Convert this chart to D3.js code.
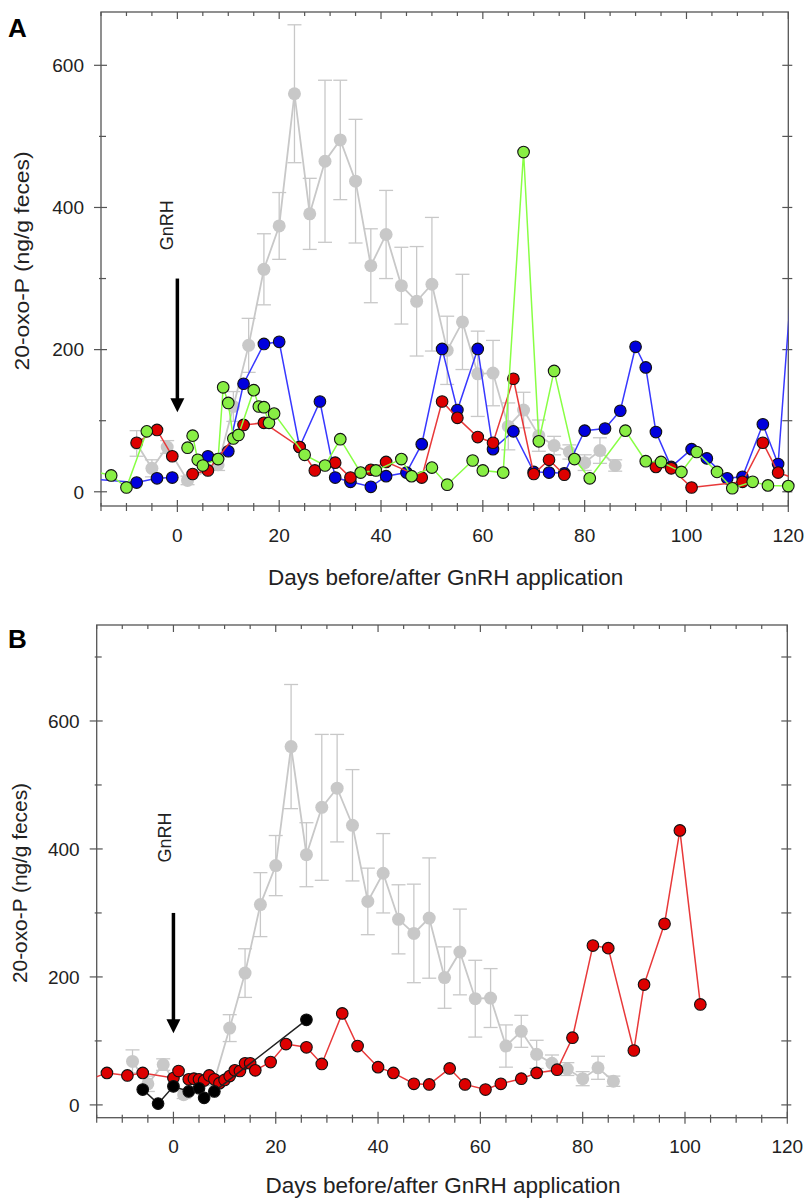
<!DOCTYPE html>
<html><head><meta charset="utf-8">
<script src="https://cdn.jsdelivr.net/npm/d3@7"></script>
<style>
html,body{margin:0;padding:0;background:#fff;}
svg{display:block;font-family:Arial,"Liberation Sans",sans-serif;}
</style></head>
<body><svg id="chart" width="805" height="1198"></svg>
<script>
// ---------- DATA ----------
const xTickLabels = [0, 20, 40, 60, 80, 100, 120];
const yTickLabels = [0, 200, 400, 600];

// reference (mean ± SEM), grey, both panels
const grayDays = [-8,-5,-2,2,8,11,14,17,20,23,26,29,32,35,38,41,44,47,50,53,56,59,62,65,68,71,74,77,80,83,86];
const grayMean = [68,33,63,16,38,120,206,313,374,560,391,465,495,437,318,362,290,268,292,199,239,166,167,92,115,79,65,56,41,58,37];
const grayErr  = [18,12,9,6,8,21,38,50,47,97,50,114,84,87,52,62,54,77,94,48,67,60,46,33,25,22,13,10,11,18,8];

// panel A individual animals (null = gap in line)
const blueADays = [-17,-8,-4,-1,1,6,10,13,17,20,24,28,31,34,38,41,45,48,52,55,59,62,66,70,73,76,80,84,87,90,92,94,97,101,104,108,111,115,118,121];
const blueAVals = [18,13,19,20,null,50,57,152,208,211,63,127,20,14,7,22,27,67,201,115,201,60,85,28,27,26,86,89,114,204,175,84,35,60,47,19,21,95,39,330];

const redADays = [-8,-4,-1,1,3,6,13,17,24,27,31,34,38,41,48,52,55,59,62,66,70,73,76,85,94,97,101,111,115,118,122];
const redAVals = [69,87,50,null,25,30,94,97,63,30,41,20,31,42,20,127,104,77,69,159,25,45,24,null,35,33,6,14,69,27,17];

const greenADays = [-17,-13,-10,-6,0,2,3,4,5,8,9,10,11,12,15,16,17,18,19,25,29,32,36,39,44,46,50,53,58,60,64,68,71,74,78,81,88,92,95,99,102,106,109,113,116,120];
const greenAVals = [30,23,6,85,null,62,79,45,37,46,147,125,75,80,143,120,119,97,110,52,37,74,27,30,46,22,34,10,44,30,27,478,71,170,46,19,86,43,42,28,56,28,5,14,9,8];

// panel B individual animals
const redBDays = [-17,-13,-9,-6,0,1,3,4,5,6,7,8,9,10,11,12,13,14,15,16,19,22,26,29,33,36,40,43,47,50,54,57,61,64,68,71,75,78,82,85,90,92,96,99,103];
const redBVals = [38,50,46,50,42,53,40,41,40,38,46,40,34,39,45,54,53,65,65,54,67,95,90,64,143,92,59,50,33,32,57,32,24,33,41,50,55,105,249,245,85,188,283,429,157];

const blackBDays = [-6,-3,0,3,5,6,8,26];
const blackBVals = [24,2,29,21,26,11,21,133];

// ---------- DRAW ----------
const svg = d3.select("#chart");
const TXT = "#222", AX = "#555";
const COLORS = {
  gray:  {fill:"#c8c8c8", line:"#c8c8c8"},
  blue:  {fill:"#0000dd", line:"#3838ff"},
  red:   {fill:"#dd0000", line:"#e8393a"},
  green: {fill:"#88ee44", line:"#88ff44"},
  black: {fill:"#000000", line:"#222222"}
};

function zip(days, vals){ return days.map((d,i)=>({d, v: vals[i]})); }

function drawPanel(cfg){
  const x = d3.scaleLinear().domain([-15,120]).range([cfg.left, cfg.right]);
  const y = d3.scaleLinear().domain([-20, cfg.yMax]).range([cfg.bottom, cfg.top]);
  const g = svg.append("g");
  const id = "clip" + cfg.label;
  svg.append("defs").append("clipPath").attr("id", id)
    .append("rect").attr("x", cfg.left).attr("y", cfg.top)
    .attr("width", cfg.right-cfg.left).attr("height", cfg.bottom-cfg.top);

  // frame
  g.append("rect").attr("x",cfg.left).attr("y",cfg.top)
    .attr("width",cfg.right-cfg.left).attr("height",cfg.bottom-cfg.top)
    .attr("fill","none").attr("stroke",AX).attr("stroke-width",1.3);

  // x ticks
  const xMinor = d3.range(-15, 121, 5);
  xMinor.forEach(t=>{
    const major = t % 20 === 0;
    const xx = x(t);
    g.append("line").attr("x1",xx).attr("x2",xx)
      .attr("y1",cfg.bottom - (major?6:3)).attr("y2",cfg.bottom + (major?6:5))
      .attr("stroke",AX).attr("stroke-width",1.2);
    g.append("line").attr("x1",xx).attr("x2",xx)
      .attr("y1",cfg.top).attr("y2",cfg.top + (major?7:4))
      .attr("stroke",AX).attr("stroke-width",1.2);
  });
  g.selectAll(".xl").data(xTickLabels).enter().append("text")
    .attr("x", d=>x(d)).attr("y", cfg.xLabY)
    .attr("text-anchor","middle").attr("font-size",19).attr("fill",TXT)
    .text(d=>d);

  // y ticks
  const yTicks = d3.range(0, cfg.yMax, 100);
  yTicks.forEach(t=>{
    const major = t % 200 === 0;
    const yy = y(t);
    g.append("line").attr("y1",yy).attr("y2",yy)
      .attr("x1",cfg.left - (major?7:2)).attr("x2",cfg.left + (major?6:5))
      .attr("stroke",AX).attr("stroke-width",1.2);
    g.append("line").attr("y1",yy).attr("y2",yy)
      .attr("x1",cfg.right - 6).attr("x2",cfg.right + 4)
      .attr("stroke",AX).attr("stroke-width",1.2);
  });
  g.selectAll(".yl").data(yTickLabels).enter().append("text")
    .attr("x", cfg.left - 17).attr("y", d=>y(d))
    .attr("dy","0.36em")
    .attr("text-anchor","end").attr("font-size",19).attr("fill",TXT)
    .text(d=>d);

  // axis titles
  g.append("text").attr("x",(cfg.left+cfg.right)/2 + 1).attr("y",cfg.xTitleY)
    .attr("text-anchor","middle").attr("font-size",22.5).attr("fill",TXT)
    .text("Days before/after GnRH application");
  g.append("text").attr("transform",`translate(${cfg.yTitleX},${cfg.yTitleY}) rotate(-90)`)
    .attr("text-anchor","middle").attr("dy","0.35em").attr("font-size",21).attr("fill",TXT)
    .attr("textLength", cfg.yTitleLen).attr("lengthAdjust","spacingAndGlyphs")
    .text("20-oxo-P (ng/g feces)");
  // panel letter
  g.append("text").attr("x",8).attr("y",cfg.letterY)
    .attr("font-size",26).attr("font-weight","bold").attr("fill","#000")
    .text(cfg.label);

  // GnRH annotation + arrow
  g.append("text").attr("transform",`translate(${x(cfg.gnrhD)},${y(cfg.gnrhV)}) rotate(-90)`)
    .attr("text-anchor","middle").attr("dy","0.35em").attr("font-size",18).attr("fill",TXT)
    .text("GnRH");
  const ax0 = x(0), aTop = y(300), aTip = y(112);
  g.append("line").attr("x1",ax0).attr("x2",ax0).attr("y1",aTop).attr("y2",aTip-10)
    .attr("stroke","#000").attr("stroke-width",3.5);
  g.append("path").attr("d",`M${ax0-7},${aTip-14}L${ax0+7},${aTip-14}L${ax0},${aTip}Z`).attr("fill","#000");

  const plot = g.append("g");
  const lineGen = d3.line().defined(p=>p.v!==null).x(p=>x(p.d)).y(p=>y(p.v));
  const inDomain = p => p.v!==null && p.d>=-15 && p.d<=120.5;

  // grey reference
  const gray = zip(grayDays, grayMean).map((p,i)=>({...p, e: grayErr[i]}));
  const eb = plot.append("g").attr("stroke",COLORS.gray.line).attr("stroke-width",1.3);
  gray.forEach(p=>{
    const xx = x(p.d);
    eb.append("line").attr("x1",xx).attr("x2",xx).attr("y1",y(p.v-p.e)).attr("y2",y(p.v+p.e));
    eb.append("line").attr("x1",xx-7).attr("x2",xx+7).attr("y1",y(p.v-p.e)).attr("y2",y(p.v-p.e));
    eb.append("line").attr("x1",xx-7).attr("x2",xx+7).attr("y1",y(p.v+p.e)).attr("y2",y(p.v+p.e));
  });
  plot.append("path").datum(gray).attr("d",lineGen).attr("fill","none")
    .attr("stroke",COLORS.gray.line).attr("stroke-width",1.8);
  plot.selectAll(".gp").data(gray).enter().append("circle")
    .attr("cx",p=>x(p.d)).attr("cy",p=>y(p.v)).attr("r",6.5).attr("fill",COLORS.gray.fill);

  cfg.series.forEach(s=>{
    const pts = zip(s.days, s.vals);
    plot.append("path").datum(pts).attr("d",lineGen).attr("fill","none")
      .attr("clip-path",`url(#${id})`)
      .attr("stroke",COLORS[s.color].line).attr("stroke-width",1.5);
    plot.selectAll(null).data(pts.filter(inDomain)).enter().append("circle")
      .attr("cx",p=>x(p.d)).attr("cy",p=>y(p.v)).attr("r",5.8)
      .attr("fill",COLORS[s.color].fill).attr("stroke","#111").attr("stroke-width",1.1);
  });
}

drawPanel({
  label:"A", left:101, right:788.3, top:12, bottom:506, yMax:675,
  xLabY:542, xTitleY:585, yTitleX:22, yTitleY:261, yTitleLen:219, letterY:37,
  gnrhD:-2, gnrhV:375,
  series:[
    {color:"blue", days:blueADays, vals:blueAVals},
    {color:"red", days:redADays, vals:redAVals},
    {color:"green", days:greenADays, vals:greenAVals}
  ]
});
drawPanel({
  label:"B", left:96.7, right:787.3, top:625, bottom:1117.7, yMax:750,
  xLabY:1153, xTitleY:1193, yTitleX:20, yTitleY:883, yTitleLen:200, letterY:648,
  gnrhD:-1.75, gnrhV:418,
  series:[
    {color:"red", days:redBDays, vals:redBVals},
    {color:"black", days:blackBDays, vals:blackBVals}
  ]
});
</script></body></html>
